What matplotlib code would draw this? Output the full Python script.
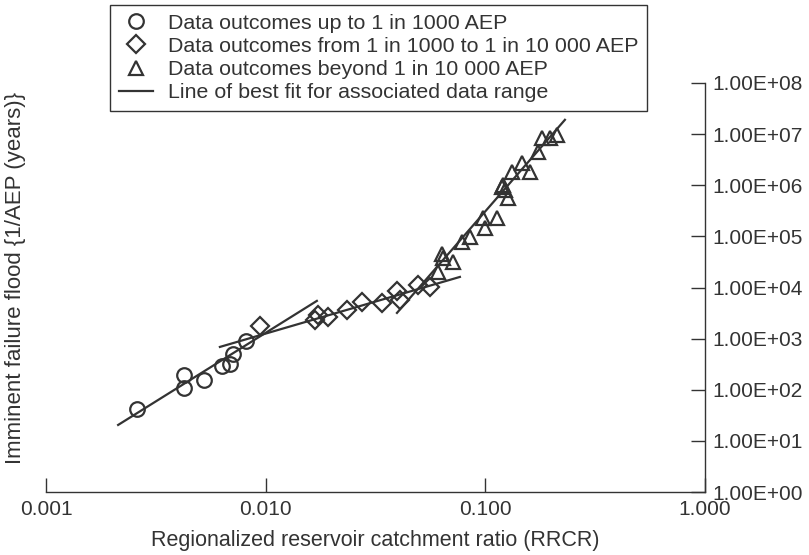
import matplotlib.pyplot as plt
from matplotlib.ticker import FuncFormatter, FixedLocator, NullLocator

plt.rcParams['font.family'] = ['Liberation Sans', 'DejaVu Sans']
plt.rcParams['font.size'] = 15

ink = '#333333'

# data (RRCR vs 1/AEP)
circle_x = [0.0026, 0.00425, 0.00425, 0.00524, 0.00633, 0.00688, 0.0071, 0.00814]
circle_y = [42, 195, 108, 155, 292, 320, 502, 902]

diamond_x = [0.00942, 0.0168, 0.0173, 0.0192, 0.0234, 0.0274, 0.0338, 0.0396, 0.0408, 0.0493, 0.0559]
diamond_y = [1770, 2320, 2910, 2660, 3650, 5230, 5000, 8580, 5720, 11250, 10300]

triangle_x = [0.0608, 0.0635, 0.0645, 0.0712, 0.0783, 0.0851, 0.0975, 0.0996, 0.113,
              0.119, 0.1203, 0.1228, 0.1267, 0.1322, 0.1467, 0.1596, 0.1735, 0.181,
              0.1968, 0.2118]
triangle_y = [20200, 45500, 38000, 31700, 78000, 97800, 230000, 146600, 230000,
              9.2e5, 1.02e6, 8.13e5, 5.67e5, 1.83e6, 2.74e6, 1.83e6, 4.5e6, 8.47e6,
              8.47e6, 9.68e6]

# best fit lines (end points)
fit_circle_x = [0.00213, 0.0171]
fit_circle_y = [20.5, 5470]
fit_diamond_x = [0.00619, 0.0766]
fit_diamond_y = [688, 16100]
fit_triangle_x = [0.0396, 0.2303]
fit_triangle_y = [3184, 1.905e7]

x_ticks = [0.001, 0.01, 0.1, 1.0]
y_ticks = [1e0, 1e1, 1e2, 1e3, 1e4, 1e5, 1e6, 1e7, 1e8]

labels = ['Data outcomes up to 1 in 1000 AEP',
          'Data outcomes from 1 in 1000 to 1 in 10 000 AEP',
          'Data outcomes beyond 1 in 10 000 AEP',
          'Line of best fit for associated data range']

fig = plt.figure(figsize=(8.09, 5.55), dpi=100)
ax = fig.add_axes([46 / 809, 1 - 492 / 555, 659 / 809, 409 / 555])

mk = dict(linestyle='none', mfc='none', mec=ink, mew=1.6)
ax.plot(circle_x, circle_y, marker='o', ms=10.5, label=labels[0], **mk)
ax.plot(diamond_x, diamond_y, marker='D', ms=9.5, label=labels[1], **mk)
ax.plot(triangle_x, triangle_y, marker='^', ms=10, label=labels[2], **mk)

ax.plot(fit_circle_x, fit_circle_y, color=ink, lw=1.6, label=labels[3])
ax.plot(fit_diamond_x, fit_diamond_y, color=ink, lw=1.6)
ax.plot(fit_triangle_x, fit_triangle_y, color=ink, lw=1.6)

ax.set_xscale('log')
ax.set_yscale('log')
ax.set_xlim(0.001, 1.0)
ax.set_ylim(1, 1e8)

ax.xaxis.set_major_locator(FixedLocator(x_ticks))
ax.yaxis.set_major_locator(FixedLocator(y_ticks))
ax.xaxis.set_minor_locator(NullLocator())
ax.yaxis.set_minor_locator(NullLocator())
ax.xaxis.set_major_formatter(FuncFormatter(lambda v, p: f'{v:.3f}'))
ax.yaxis.set_major_formatter(FuncFormatter(lambda v, p: f'{v:.2E}'))

ax.yaxis.tick_right()
for s in ['left', 'top']:
    ax.spines[s].set_visible(False)
for s in ['right', 'bottom']:
    ax.spines[s].set_color(ink)
    ax.spines[s].set_linewidth(1.0)
ax.tick_params(direction='in', length=10, width=1.0, color=ink, labelcolor=ink, pad=5)
ax.tick_params(axis='x', pad=6)

ax.set_xlabel('Regionalized reservoir catchment ratio (RRCR)', color=ink,
              fontsize=15.5, labelpad=8)
fig.text(16 / 809, 1 - 278 / 555, 'Imminent failure flood {1/AEP (years)}',
         rotation=90, ha='center', va='center', color=ink, fontsize=16)

leg = fig.legend(loc='upper left', bbox_to_anchor=(110 / 809, 1 - 5 / 555),
                 borderaxespad=0, fancybox=False, framealpha=1, edgecolor=ink,
                 handlelength=1.6, handletextpad=0.7, labelspacing=0.2,
                 borderpad=0.4, numpoints=1, labelcolor=ink, fontsize=15.4)
leg.get_frame().set_linewidth(1.0)

fig.savefig('out.png', dpi=100, facecolor='white')
